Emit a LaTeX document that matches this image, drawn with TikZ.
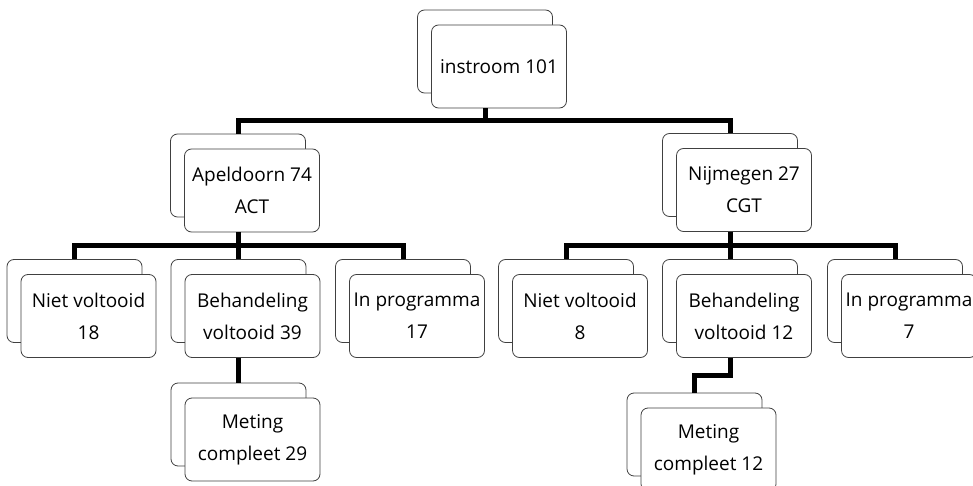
\documentclass[tikz,border=0pt]{standalone}
\usepackage{fontspec}
\setmainfont{Open Sans}
\usetikzlibrary{calc}
\tikzset{
  boxbase/.style={draw=black!75, line width=0.8pt, rounded corners=7pt, fill=white,
    minimum width=135pt, minimum height=83pt, inner sep=0pt},
  backbox/.style={boxbase},
  frontbox/.style={boxbase, align=center, font=\fontsize{19}{32}\selectfont},
  conn/.style={line width=5pt, black},
  elbow/.style={to path={(\tikztostart) |- ($(\tikztostart)!0.5!(\tikztotarget)$) -| (\tikztotarget)}}
}
\newcommand\dbox[4]{%
  \node[backbox] (#1B) at (#2,#3) {};
  \node[frontbox] (#1) at ($(#2,#3)+(14,15)$) {#4};
}
\begin{document}
\begin{tikzpicture}[x=1pt,y=-1pt]
\useasboundingbox (0,0) rectangle (973,486);
\clip (0,0) rectangle (973,486);
\dbox{top}{485}{51.5}{instroom 101}
\dbox{ap}{238}{175.5}{Apeldoorn 74\\ACT}
\dbox{nij}{730}{175}{Nijmegen 27\\CGT}
\dbox{nvl}{74.5}{301}{Niet voltooid\\18}
\dbox{bhl}{238.5}{301}{Behandeling\\voltooid 39}
\dbox{ipl}{403}{301}{In programma\\17}
\dbox{nvr}{566}{301}{Niet voltooid\\8}
\dbox{bhr}{730}{301}{Behandeling\\voltooid 12}
\dbox{ipr}{895}{301}{In programma\\7}
\dbox{mtl}{238.5}{424.5}{Meting\\compleet 29}
\dbox{mtr}{694.5}{434.5}{Meting\\compleet 12}
\draw[conn] (topB |- top.south) to[elbow] (apB.north);
\draw[conn] (topB |- top.south) to[elbow] (nijB.north);
\draw[conn] (apB |- ap.south) to[elbow] (nvlB.north);
\draw[conn] (apB |- ap.south) to[elbow] (bhlB.north);
\draw[conn] (apB |- ap.south) to[elbow] (iplB.north);
\draw[conn] (nijB |- nij.south) to[elbow] (nvrB.north);
\draw[conn] (nijB |- nij.south) to[elbow] (bhrB.north);
\draw[conn] (nijB |- nij.south) to[elbow] (iprB.north);
\draw[conn] (bhlB |- bhl.south) -- (mtlB.north);
\draw[conn] (bhrB |- bhr.south) to[elbow] (mtrB.north);
\end{tikzpicture}
\end{document}
